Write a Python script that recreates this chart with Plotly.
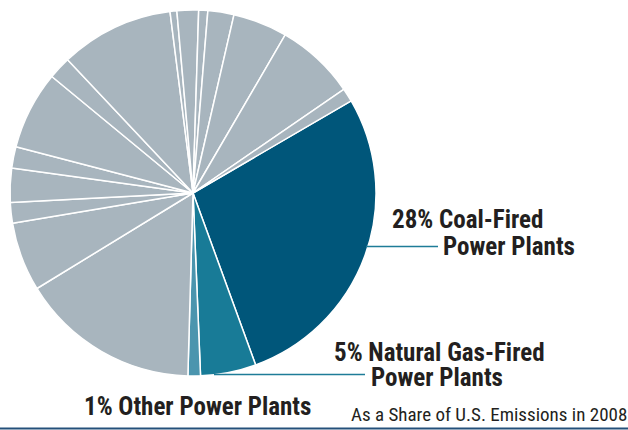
import plotly.graph_objects as go

W, H = 628, 430

labels = ["Coal-Fired Power Plants", "Natural Gas-Fired Power Plants", "Other Power Plants",
          "Source A", "Source B", "Source C", "Source D", "Source E", "Source F", "Source G",
          "Source H", "Source I", "Source J", "Source K", "Source L", "Source M", "Source N", "Source O"]
values = [27.8, 4.9, 1.1,
          15.8, 6.1, 1.8, 3.0, 1.9, 6.9, 2.0, 10.0, 0.6, 1.9, 0.8, 2.3, 4.8, 7.0, 1.2]

GRAY = "#A8B5BE"
colors = ["#00567A", "#187B97", "#4B95AE"] + [GRAY] * (len(values) - 3)

label_lines = ["28% Coal-Fired", "Power Plants",
               "5% Natural Gas-Fired", "Power Plants",
               "1% Other Power Plants"]
note = "As a Share of U.S. Emissions in 2008"

cx, cy, r = 193, 193, 183

fig = go.Figure(go.Pie(
    labels=labels, values=values, sort=False, direction="clockwise",
    rotation=59.8, textinfo="none", hoverinfo="label+percent",
    marker=dict(colors=colors, line=dict(color="white", width=1.5)),
    domain=dict(x=[(cx - r) / W, (cx + r) / W], y=[1 - (cy + r) / H, 1 - (cy - r) / H]),
    showlegend=False,
))

def px(x):
    return x / W

def py(y):
    return 1 - y / H

TXT = "#231F20"
FONT = "Roboto Condensed, Roboto, sans-serif"

ann = [
    (label_lines[0], 390, 219.5),
    (label_lines[1], 441, 246.5),
    (label_lines[2], 332, 352),
    (label_lines[3], 369, 377.5),
    (label_lines[4], 82, 406),
]
annotations = []
for t, x, y in ann:
    annotations.append(dict(text="<b>" + t + "</b>", x=px(x), y=py(y), xref="paper", yref="paper",
                            xanchor="left", yanchor="middle", showarrow=False,
                            font=dict(family=FONT, size=25, color=TXT)))
annotations.append(dict(text=note, x=px(349), y=py(414), xref="paper", yref="paper",
                        xanchor="left", yanchor="middle", showarrow=False,
                        font=dict(family=FONT, size=19, color=TXT)))

LEAD = "#1E7C98"
shapes = [
    dict(type="line", xref="paper", yref="paper", x0=px(366), x1=px(438), y0=py(246.5), y1=py(246.5),
         line=dict(color=LEAD, width=1.5)),
    dict(type="line", xref="paper", yref="paper", x0=px(214), x1=px(365), y0=py(374.5), y1=py(374.5),
         line=dict(color=LEAD, width=1.5)),
    dict(type="line", xref="paper", yref="paper", x0=0, x1=1, y0=py(428.5), y1=py(428.5),
         line=dict(color="#24507A", width=2)),
]

fig.update_layout(
    width=W, height=H, margin=dict(l=0, r=0, t=0, b=0),
    paper_bgcolor="white", plot_bgcolor="white",
    annotations=annotations, shapes=shapes,
)

fig.write_html("out.html", config={"displayModeBar": False},
               post_script="document.body.style.margin='0';document.body.style.padding='0';")
